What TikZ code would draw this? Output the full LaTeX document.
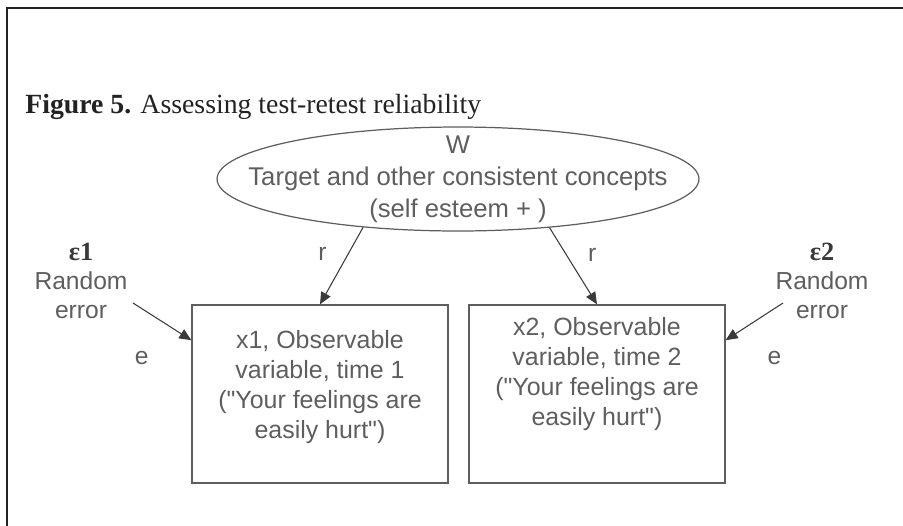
\documentclass[tikz,border=0pt]{standalone}
\usepackage{fontspec}
\setmainfont{Liberation Serif}
\setsansfont{Liberation Sans}
\usetikzlibrary{arrows.meta,positioning,calc,shapes.geometric}
\definecolor{Ink}{HTML}{222222}
\definecolor{Pencil}{HTML}{5E5E5E}
\definecolor{Lead}{HTML}{3A3A3A}
\tikzset{
  frameline/.style={draw=Ink,line width=1.7pt},
  latent/.style={draw=Pencil,ellipse,line width=.7pt,minimum width=9.64cm,minimum height=2.08cm,inner sep=0pt},
  observed/.style={draw=Pencil,line width=.8pt,minimum width=5.12cm,minimum height=3.56cm,inner sep=0pt},
  vartext/.style={text=Pencil,font=\sffamily\fontsize{14.2}{17}\selectfont,align=center,inner sep=0pt},
  errtext/.style={text=Pencil,font=\sffamily\fontsize{14}{16.3}\selectfont,align=center,inner sep=0pt},
  tag/.style={text=Pencil,font=\sffamily\fontsize{14}{17}\selectfont,inner sep=0pt},
  link/.style={-{Triangle[length=2.4mm,width=2.1mm]},draw=Lead,line width=.6pt}
}
\newcommand{\qq}{\textquotedbl}
\begin{document}
\begin{tikzpicture}[x=0.02cm,y=-0.02cm]
  \useasboundingbox (0,0) rectangle (903,525);
  \draw[frameline] (7,535) |- (915,8);

  \node[anchor=base west,inner sep=0pt,text=Ink,font=\fontsize{15.8}{18}\selectfont] (title) at (25,113)
    {\textbf{Figure 5.} Assessing test-retest reliability};

  % common factor and the two measurements
  \node[latent] (ell) at (458,179) {};
  \node[vartext,font=\sffamily\fontsize{14.6}{18.3}\selectfont] (elltxt) at ($(ell.center)+(0,0)$)
    {W\\Target and other consistent concepts\\(self esteem + )};
  \node[observed] (x1) at (320,394) {};
  \node[vartext] (x1txt) at ($(x1.center)+(0,-7)$)
    {x1, Observable\\variable, time 1\\(\qq Your feelings are\\easily hurt\qq)};
  \node[observed] (x2) at (597,394) {};
  \node[vartext] (x2txt) at ($(x2.center)+(0,-20)$)
    {x2, Observable\\variable, time 2\\(\qq Your feelings are\\easily hurt\qq)};

  % error terms
  \node[errtext] (err1) at (81,281) {\textcolor{Lead}{\rmfamily\bfseries\fontsize{15}{16.3}\selectfont ε1}\\Random\\error};
  \node[errtext] (err2) at (822,281) {\textcolor{Lead}{\rmfamily\bfseries\fontsize{15}{16.3}\selectfont ε2}\\Random\\error};
  \coordinate (tail1) at (133,303);
  \coordinate (tail2) at (783,303);

  \draw[link] (ell.207) -- (x1.north) node[tag,pos=.35,left=.42cm] (r1) {r};
  \draw[link] (ell.-28) -- (x2.north) node[tag,pos=.35,right=.43cm] (r2) {r};
  \draw[link] (tail1) -- ($(x1.north west)!.2!(x1.south west)$) node[tag,pos=.15,below=.84cm] (e1) {e};
  \draw[link] (tail2) -- ($(x2.north east)!.2!(x2.south east)$) node[tag,pos=.15,below=.84cm] (e2) {e};
\end{tikzpicture}
\end{document}
